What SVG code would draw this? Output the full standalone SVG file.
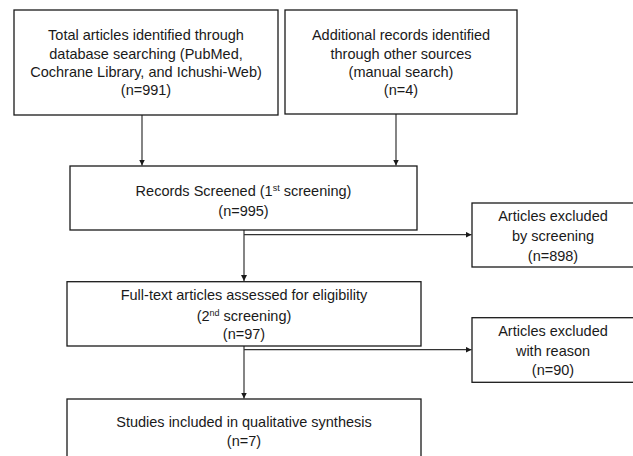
<svg xmlns="http://www.w3.org/2000/svg" width="633" height="456" viewBox="0 0 633 456">
<style>
.box{fill:#fff;stroke:#1a1a1a;stroke-width:1.3}
.t{font-family:"Liberation Sans",Arial,sans-serif;font-size:14.5px;fill:#1a1a1a;text-anchor:middle}
.sup{font-size:9px}
.c{fill:none;stroke:#333;stroke-width:1.2}
</style>
<defs>
<marker id="ah" viewBox="0 0 6 6" refX="6" refY="3" markerWidth="6" markerHeight="6" markerUnits="userSpaceOnUse" orient="auto">
<path d="M0,0 L6,3 L0,6 Z" fill="#1a1a1a"/>
</marker>
</defs>
<rect width="633" height="456" fill="#fff"/>
<g id="connectors">
<path class="c" d="M142,115 V165.5" marker-end="url(#ah)"/>
<path class="c" d="M396,114 V165.5" marker-end="url(#ah)"/>
<path class="c" d="M244,230 V281" marker-end="url(#ah)"/>
<path class="c" d="M244,234.7 H471.5" marker-end="url(#ah)"/>
<path class="c" d="M244,346 V398.5" marker-end="url(#ah)"/>
<path class="c" d="M244,349.7 H471.5" marker-end="url(#ah)"/>
</g>
<g id="n1">
<rect class="box" x="14" y="10" width="264" height="105"/>
<text class="t" x="146" y="40">Total articles identified through</text>
<text class="t" x="146" y="58.5">database searching (PubMed,</text>
<text class="t" x="146" y="77">Cochrane Library, and Ichushi-Web)</text>
<text class="t" x="146" y="95">(n=991)</text>
</g>
<g id="n2">
<rect class="box" x="285" y="10" width="232" height="104"/>
<text class="t" x="401" y="40">Additional records identified</text>
<text class="t" x="401" y="58.5">through other sources</text>
<text class="t" x="401" y="77">(manual search)</text>
<text class="t" x="401" y="95">(n=4)</text>
</g>
<g id="n3">
<rect class="box" x="70" y="166" width="347" height="64"/>
<text class="t" x="243.5" y="196">Records Screened (1<tspan class="sup" dy="-5">st</tspan><tspan dy="5"> screening)</tspan></text>
<text class="t" x="243.5" y="216">(n=995)</text>
</g>
<g id="n4">
<rect class="box" x="472" y="203" width="162" height="64"/>
<text class="t" x="553" y="221">Articles excluded</text>
<text class="t" x="553" y="241">by screening</text>
<text class="t" x="553" y="261">(n=898)</text>
</g>
<g id="n5">
<rect class="box" x="67" y="281.7" width="354" height="64.3"/>
<text class="t" x="244" y="300">Full-text articles assessed for eligibility</text>
<text class="t" x="244" y="320.5">(2<tspan class="sup" dy="-5">nd</tspan><tspan dy="5"> screening)</tspan></text>
<text class="t" x="244" y="339">(n=97)</text>
</g>
<g id="n6">
<rect class="box" x="472" y="317.7" width="162" height="64.6"/>
<text class="t" x="553" y="336">Articles excluded</text>
<text class="t" x="553" y="356">with reason</text>
<text class="t" x="553" y="375">(n=90)</text>
</g>
<g id="n7">
<rect class="box" x="67" y="399" width="354" height="70"/>
<text class="t" x="244" y="427">Studies included in qualitative synthesis</text>
<text class="t" x="244" y="446">(n=7)</text>
</g>
</svg>
